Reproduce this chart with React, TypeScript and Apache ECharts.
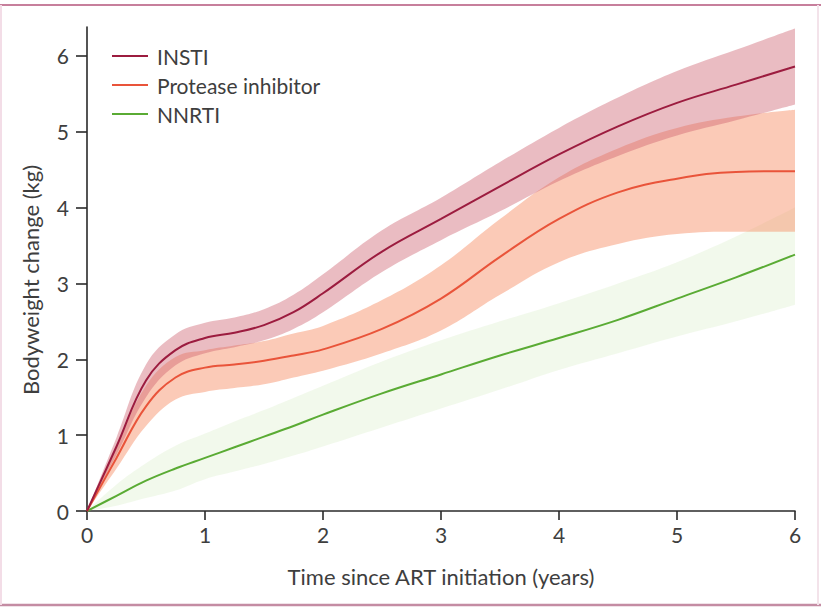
import React, { useEffect, useRef } from "react";
import * as echarts from "echarts";

// Time since ART initiation (years)
const years = [0, 0.25, 0.5, 0.75, 1, 1.25, 1.5, 1.75, 2, 2.5, 3, 3.5, 4, 4.5, 5, 5.5, 6];

// INSTI
const instiMean = [0, 0.85, 1.72, 2.12, 2.28, 2.35, 2.45, 2.62, 2.87, 3.42, 3.85, 4.28, 4.7, 5.07, 5.38, 5.62, 5.86];
const instiLower = [0, 0.74, 1.5, 1.92, 2.08, 2.16, 2.25, 2.4, 2.62, 3.15, 3.57, 3.95, 4.35, 4.68, 4.95, 5.15, 5.36];
const instiUpper = [0, 0.97, 1.93, 2.33, 2.48, 2.55, 2.66, 2.85, 3.12, 3.7, 4.13, 4.6, 5.05, 5.45, 5.8, 6.08, 6.36];

// Protease inhibitor
const piMean = [0, 0.7, 1.38, 1.76, 1.89, 1.93, 1.98, 2.05, 2.13, 2.4, 2.8, 3.35, 3.85, 4.2, 4.38, 4.47, 4.48];
const piLower = [0, 0.56, 1.12, 1.47, 1.57, 1.62, 1.67, 1.76, 1.85, 2.08, 2.38, 2.85, 3.28, 3.52, 3.65, 3.68, 3.68];
const piUpper = [0, 0.84, 1.65, 2.03, 2.12, 2.18, 2.24, 2.34, 2.44, 2.78, 3.24, 3.85, 4.4, 4.78, 5.05, 5.2, 5.29];

// NNRTI
const nnrtiMean = [0, 0.2, 0.4, 0.56, 0.7, 0.84, 0.98, 1.12, 1.27, 1.55, 1.8, 2.05, 2.28, 2.52, 2.8, 3.08, 3.38];
const nnrtiLower = [0, 0.07, 0.17, 0.27, 0.42, 0.52, 0.62, 0.73, 0.85, 1.1, 1.35, 1.6, 1.86, 2.08, 2.3, 2.5, 2.72];
const nnrtiUpper = [0, 0.35, 0.63, 0.86, 1.02, 1.18, 1.33, 1.49, 1.65, 1.97, 2.25, 2.5, 2.74, 3.0, 3.28, 3.62, 4.0];

const xTicks = [0, 1, 2, 3, 4, 5, 6];
const yTicks = [0, 1, 2, 3, 4, 5, 6];

const groups = [
  { name: "INSTI", mean: instiMean, lower: instiLower, upper: instiUpper, line: "#9c1c3f", band: "rgba(205,95,110,0.42)" },
  { name: "Protease inhibitor", mean: piMean, lower: piLower, upper: piUpper, line: "#e9543a", band: "rgba(246,145,105,0.48)" },
  { name: "NNRTI", mean: nnrtiMean, lower: nnrtiLower, upper: nnrtiUpper, line: "#5aab34", band: "rgba(175,215,135,0.16)" },
];

const FONT = "Lato";
const TEXT = "#3e3e3e";
const SMOOTH = 0.4;

export default function App() {
  const ref = useRef<HTMLDivElement>(null);
  useEffect(() => {
    if (!ref.current) return;
    const chart = echarts.init(ref.current, undefined, { renderer: "svg" });

    const bandSeries: any[] = [];
    [...groups].reverse().forEach((g) => {
      bandSeries.push({
        name: g.name + " lower",
        type: "line",
        xAxisIndex: 1,
        stack: g.name,
        data: years.map((x, i) => [x, g.lower[i]]),
        showSymbol: false,
        smooth: SMOOTH,
        lineStyle: { width: 0, opacity: 0 },
        silent: true,
      });
      bandSeries.push({
        name: g.name + " band",
        type: "line",
        xAxisIndex: 1,
        stack: g.name,
        data: years.map((x, i) => [x, +(g.upper[i] - g.lower[i]).toFixed(3)]),
        showSymbol: false,
        smooth: SMOOTH,
        lineStyle: { width: 0, opacity: 0 },
        areaStyle: { color: g.band, opacity: 1 },
        silent: true,
      });
    });

    const lineSeries = [...groups].reverse().map((g) => ({
      name: g.name,
      type: "line",
      xAxisIndex: 0,
      data: years.map((x, i) => [x, g.mean[i]]),
      showSymbol: false,
      smooth: SMOOTH,
      color: g.line,
      lineStyle: { width: 2, color: g.line },
      itemStyle: { color: g.line },
      silent: true,
    }));

    chart.setOption({
      animation: false,
      backgroundColor: "#ffffff",
      grid: { left: 87, right: 26, top: 27, bottom: 98 },
      legend: {
        data: groups.map((g) => g.name),
        orient: "vertical",
        left: 112,
        top: 45,
        padding: 0,
        icon: "rect",
        itemWidth: 36,
        itemHeight: 2,
        itemGap: 7,
        textStyle: { fontFamily: FONT, fontSize: 21, color: TEXT, lineHeight: 22, padding: [0, 0, 0, 4] },
      },
      xAxis: [
        {
          type: "value",
          min: 0,
          max: 6,
          interval: 1,
          name: "Time since ART initiation (years)",
          nameLocation: "middle",
          nameGap: 54,
          nameTextStyle: { fontFamily: FONT, fontSize: 22, color: TEXT },
          axisLine: { show: true, lineStyle: { color: "#2a2a2a", width: 1.6 } },
          axisTick: { show: true, length: 9, lineStyle: { color: "#2a2a2a", width: 1.6 }, customValues: xTicks },
          axisLabel: { fontFamily: FONT, fontSize: 21, color: TEXT, margin: 13, customValues: xTicks },
          splitLine: { show: false },
        },
        {
          type: "time",
          min: 0,
          max: 6,
          show: false,
        },
      ],
      yAxis: {
        type: "value",
        min: 0,
        max: 6.38,
        interval: 1,
        axisLine: { show: true, lineStyle: { color: "#2a2a2a", width: 1.6 } },
        axisTick: { show: true, length: 11, lineStyle: { color: "#2a2a2a", width: 1.6 }, customValues: yTicks },
        axisLabel: { fontFamily: FONT, fontSize: 21, color: TEXT, margin: 18, customValues: yTicks },
        splitLine: { show: false },
      },
      graphic: [
        {
          type: "text",
          x: 30,
          y: 280,
          rotation: Math.PI / 2,
          style: {
            text: "Bodyweight change (kg)",
            fontFamily: FONT,
            fontSize: 22,
            fill: TEXT,
            textAlign: "center",
            textVerticalAlign: "middle",
            align: "center",
            verticalAlign: "middle",
          },
        },
        { type: "line", shape: { x1: 0, y1: 5, x2: 821, y2: 5 }, style: { stroke: "#c77f9c", lineWidth: 2 } },
        { type: "line", shape: { x1: 0, y1: 605, x2: 821, y2: 605 }, style: { stroke: "#c48ca3", lineWidth: 2.5 } },
        { type: "line", shape: { x1: 1, y1: 5, x2: 1, y2: 605 }, style: { stroke: "#f3dde7", lineWidth: 2 } },
        { type: "line", shape: { x1: 818, y1: 5, x2: 818, y2: 605 }, style: { stroke: "#f3e3ea", lineWidth: 2 } },
      ],
      series: [...bandSeries, ...lineSeries],
    });
    return () => chart.dispose();
  }, []);
  return <div ref={ref} style={{ position: "absolute", left: 0, top: 0, width: 821, height: 609 }} />;
}
